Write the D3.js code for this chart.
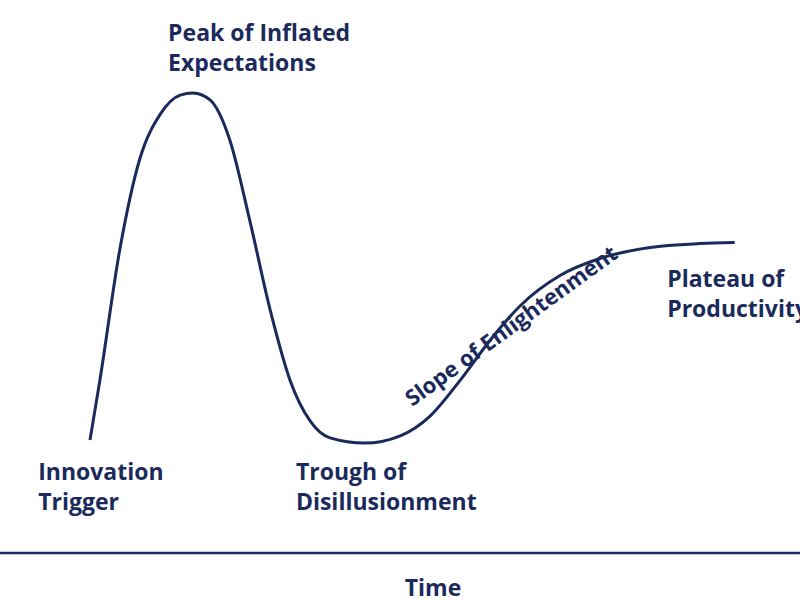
<!DOCTYPE html>
<html>
<head>
<meta charset="utf-8">
<script src="https://cdn.jsdelivr.net/npm/d3@7"></script>
<style>
  body { margin: 0; background: #fff; }
  text { font-family: "Open Sans", "DejaVu Sans", sans-serif; font-weight: 700; fill: #1b2a5c; }
</style>
</head>
<body>
<svg id="chart" width="800" height="600"></svg>
<script>
// hype curve: time (0-100) vs expectations (0-100)
const time = [0, 1.4, 4.2, 7.0, 9.9, 12.7, 14.5, 16.9, 19.7, 22.5, 25.4, 28.2, 31.0, 33.8, 38.7, 43.7, 47.9, 52.1, 56.3, 60.6, 66.2, 71.8, 78.9, 85.9, 90.8];
const expectation = [0, 17.3, 54.9, 80.9, 93.9, 99.4, 100, 98.0, 86.4, 63.3, 37.3, 17.1, 5.5, 0.6, -0.9, 1.2, 6.9, 17.1, 28.6, 38.7, 47.4, 52.3, 55.5, 56.6, 56.9];

const phaseLabels = [
  { lines: ["Peak of Inflated", "Expectations"], t: 11.0, e: 115 },
  { lines: ["Innovation", "Trigger"], t: -7.3, e: -11.5 },
  { lines: ["Trough of", "Disillusionment"], t: 29.0, e: -11.5 },
  { lines: ["Plateau of", "Productivity"], t: 81.3, e: 44 }
];
const slopeLabel = "Slope of Enlightenment";

const svg = d3.select("#chart");
const navy = "#1b2a5c";

const x = d3.scaleLinear().domain([0, 100]).range([90, 800]);
const y = d3.scaleLinear().domain([0, 100]).range([440, 93]);

const pts = time.map((t, i) => ({ t, e: expectation[i] }));

const line = d3.line()
  .x(d => x(d.t))
  .y(d => y(d.e))
  .curve(d3.curveMonotoneX);

svg.append("path")
  .datum(pts)
  .attr("fill", "none")
  .attr("stroke", navy)
  .attr("stroke-width", 3)
  .attr("d", line);

// phase labels
phaseLabels.forEach(p => {
  const txt = svg.append("text")
    .attr("x", x(p.t))
    .attr("y", y(p.e))
    .style("font-size", "23px");
  p.lines.forEach((l, i) => {
    txt.append("tspan").attr("x", x(p.t)).attr("dy", i === 0 ? 0 : 30).text(l);
  });
});

svg.append("text")
  .attr("transform", `translate(${x(45.4)},${y(9.5)}) rotate(-36)`)
  .style("font-size", "22px")
  .text(slopeLabel);

// time axis
svg.append("line")
  .attr("x1", 0).attr("x2", 800)
  .attr("y1", 553).attr("y2", 553)
  .attr("stroke", navy)
  .attr("stroke-width", 2.5);

svg.append("text")
  .attr("x", 433).attr("y", 596)
  .attr("text-anchor", "middle")
  .style("font-size", "23px")
  .text("Time");
</script>
</body>
</html>
